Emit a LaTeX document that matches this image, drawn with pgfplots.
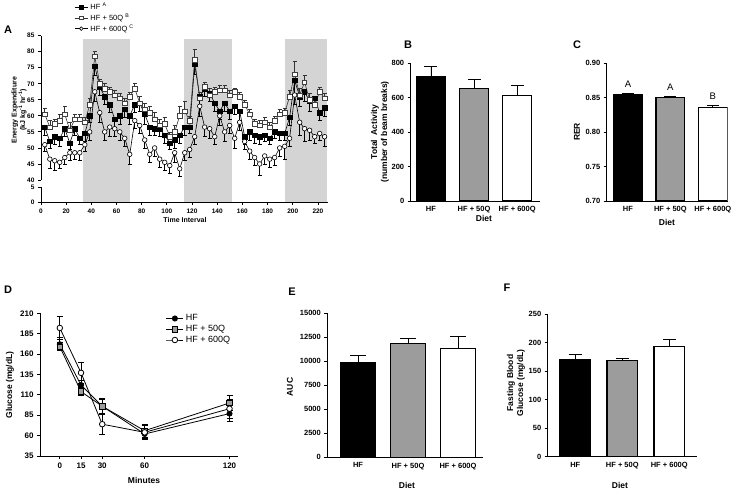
\documentclass[border=0pt]{standalone}
\usepackage{fontspec}
\setmainfont{Liberation Sans}
\usepackage{pgfplots}
\usepackage{pgfplotstable}
\pgfplotsset{compat=1.18}

\definecolor{band}{HTML}{D4D4D4}
\definecolor{bargray}{HTML}{9C9C9C}

\newcommand\tk{\bfseries\fontsize{7.5}{8}\selectfont}
\newcommand\lb{\bfseries\fontsize{8.5}{10}\selectfont}
\newcommand\pl{\bfseries\fontsize{11}{12}\selectfont}

\pgfplotstableread{
x hf hfe qa qae qb qbe
3.0 56.5 2.5 60.5 2.0 51.0 2.0
7.0 52.0 2.0 56.5 2.0 46.5 3.0
10.9 53.5 2.5 57.5 1.5 46.0 3.0
14.9 53.0 2.5 58.5 2.0 45.5 2.0
18.9 56.0 2.5 60.5 2.5 47.0 2.0
22.9 51.5 2.0 55.5 2.5 48.5 2.5
26.8 56.0 2.0 59.0 1.5 48.5 2.0
30.8 53.0 2.0 59.0 1.5 48.5 2.5
34.8 54.5 2.5 58.0 1.5 51.0 2.0
38.7 60.0 2.0 63.5 2.0 55.0 2.5
42.7 75.5 3.0 78.5 1.5 67.5 3.0
46.7 69.0 2.5 70.0 1.5 61.0 3.0
50.6 66.0 2.5 68.5 1.5 55.0 2.5
54.6 63.5 2.5 67.5 1.5 56.5 3.0
58.6 59.0 2.5 66.5 1.5 56.0 2.5
62.6 60.0 2.5 65.5 1.5 55.0 2.5
66.5 62.0 2.5 64.0 1.5 53.0 2.5
70.5 60.0 2.5 66.0 1.5 48.0 3.0
74.5 63.5 2.5 68.5 1.5 58.5 2.5
78.4 64.0 2.5 64.0 2.0 57.0 2.5
82.4 60.5 3.0 62.0 2.0 52.5 2.5
86.4 56.5 2.5 61.0 2.0 48.0 2.5
90.3 56.0 2.0 59.0 2.0 50.0 2.5
94.3 56.0 2.5 57.0 2.0 46.5 2.5
98.3 54.0 2.5 57.5 2.0 45.5 2.5
102.3 51.5 2.0 53.5 1.5 44.5 2.5
106.2 52.5 2.5 55.0 2.0 48.5 3.0
110.2 54.0 2.5 60.0 3.0 43.5 2.5
114.2 56.5 2.5 61.5 3.0 48.5 2.5
118.1 56.5 2.0 58.5 1.5 49.5 2.5
122.1 76.0 3.0 77.5 3.3 53.5 2.5
126.1 66.0 2.5 65.5 2.0 63.0 3.0
130.0 68.5 2.5 69.0 1.5 56.5 3.0
134.0 67.0 2.5 66.5 2.0 56.0 3.0
138.0 64.0 2.5 67.5 1.5 53.5 2.5
142.0 61.5 2.5 68.0 1.5 60.0 3.0
145.9 64.0 2.5 68.0 1.5 55.0 3.0
149.9 61.5 2.5 66.5 1.5 57.0 2.5
153.9 63.0 2.5 67.5 1.0 53.0 3.0
157.8 61.5 3.0 66.0 1.5 58.0 2.5
161.8 53.5 2.5 63.5 1.5 52.0 2.5
165.8 55.0 2.5 60.5 1.5 49.0 2.5
169.7 54.0 2.5 57.5 1.5 47.0 2.5
173.7 53.5 2.5 57.0 1.5 45.0 3.5
177.7 54.0 2.0 58.0 1.5 47.5 2.5
181.7 53.0 2.0 56.5 1.5 46.5 2.5
185.6 55.0 2.0 58.5 1.5 47.0 2.5
189.6 54.5 2.0 60.5 1.5 50.0 2.5
193.6 54.5 2.0 61.0 1.5 50.5 4.0
197.5 59.5 2.5 66.0 2.0 53.0 2.5
201.5 71.0 4.0 73.0 4.0 66.5 3.0
205.5 66.0 3.0 66.5 2.0 58.0 4.0
209.4 67.5 3.0 70.5 2.0 56.0 4.0
213.4 64.5 3.0 65.0 2.0 55.5 3.0
217.4 65.5 2.5 63.5 2.0 53.5 2.0
221.4 61.0 2.5 67.5 1.5 54.5 2.0
225.3 62.5 2.5 65.5 1.5 53.5 3.0
}\eetable

\pgfplotsset{
  gp/.style={scale only axis, axis lines=left, axis line style={-, line width=0.9pt},
    tick align=outside, major tick length=3pt, tick style={black, line width=0.8pt},
    tick label style={font=\tk}, /pgf/number format/assume math mode=true,
    /pgf/number format/1000 sep={}, scaled ticks=false, clip=true},
  barax/.style={gp, xtick={0,1,2}, xticklabels={HF,HF + 50Q,HF + 600Q},
    xtick style={draw=none}, xticklabel style={yshift=1pt}, axis on top},
  bars/.style={ybar, bar shift=0pt, bar width=#1, draw=black, line width=1.1pt},
  ebp/.style={error bars/.cd, y dir=plus, y explicit,
    error bar style={line width=0.9pt, black},
    error mark options={line width=0.9pt, black, mark size=#1, rotate=90}},
}

\begin{document}
\begin{tikzpicture}[x=1pt,y=1pt]
\path[use as bounding box] (0pt,0pt) rectangle (739pt,494pt);

% ---------------- Panel A ----------------
\begin{axis}[gp, at={(41pt,292pt)}, anchor=south west, width=287pt, height=15pt,
  xmin=0, xmax=228, ymin=0, ymax=5, ytick={0,5}, xtick={0,20,...,220},
  clip=false, axis on top, tick label style={font=\bfseries\fontsize{6.5}{7}\selectfont}]
\addplot[fill=band, draw=none] coordinates {(33.6,0) (33.6,7.5) (70.7,7.5) (70.7,0)} -- cycle;
\addplot[fill=band, draw=none] coordinates {(113.8,0) (113.8,7.5) (151.4,7.5) (151.4,0)} -- cycle;
\addplot[fill=band, draw=none] coordinates {(193.8,0) (193.8,7.5) (227.4,7.5) (227.4,0)} -- cycle;
\end{axis}

\begin{axis}[gp, at={(41pt,314pt)}, anchor=south west, width=287pt, height=144.3pt,
  xmin=0, xmax=228, ymin=40, ymax=85, ytick={40,45,...,85},
  axis x line=none, axis y line*=left, axis on top,
  tick label style={font=\bfseries\fontsize{6.5}{7}\selectfont},
  legend style={at={(0.115,1.24)}, anchor=north west, draw=none, fill=none,
    font=\fontsize{7.5}{8}\selectfont, row sep=-1.5pt, inner sep=0pt},
  legend image post style={scale=0.8},
  legend cell align=left]
\addplot[fill=band, draw=none, forget plot] coordinates {(33.6,40) (33.6,84) (70.7,84) (70.7,40)} -- cycle;
\addplot[fill=band, draw=none, forget plot] coordinates {(113.8,40) (113.8,84) (151.4,84) (151.4,40)} -- cycle;
\addplot[fill=band, draw=none, forget plot] coordinates {(193.8,40) (193.8,84) (227.4,84) (227.4,40)} -- cycle;
\addplot[black, line width=0.6pt, mark=square*, mark size=2.2pt, mark options={fill=black},
  error bars/.cd, y dir=minus, y explicit, error bar style={line width=0.6pt},
  error mark options={line width=0.6pt, mark size=2pt, rotate=90}]
  table[x=x, y=hf, y error=hfe] \eetable;
\addlegendentry{HF $^{\mathrm{A}}$}
\addplot[black!80, line width=0.6pt, mark=square*, mark size=2.2pt, mark options={fill=white, draw=black!75},
  error bars/.cd, y dir=plus, y explicit, error bar style={line width=0.6pt},
  error mark options={line width=0.6pt, mark size=2pt, rotate=90}]
  table[x=x, y=qa, y error=qae] \eetable;
\addlegendentry{HF + 50Q $^{\mathrm{B}}$}
\addplot[black, line width=0.6pt, mark=*, mark size=2.3pt, mark options={fill=white},
  error bars/.cd, y dir=minus, y explicit, error bar style={line width=0.6pt},
  error mark options={line width=0.6pt, mark size=2pt, rotate=90}]
  table[x=x, y=qb, y error=qbe] \eetable;
\addlegendentry{HF + 600Q $^{\mathrm{C}}$}
\end{axis}
\node[font=\pl] at (8pt,464pt) {A};
\node[rotate=90, align=center, font=\bfseries\fontsize{7}{8.5}\selectfont] at (19pt,384pt)
  {Energy Expenditure\\(kJ kg\textsuperscript{-1} hr\textsuperscript{-1})};
\node[font=\bfseries\fontsize{7}{8}\selectfont] at (185pt,274pt) {Time Interval};

% ---------------- Panel B ----------------
\begin{axis}[barax, at={(410.7pt,293pt)}, anchor=south west, width=129.3pt, height=138pt,
  xmin=-0.47, xmax=2.53, ymin=0, ymax=800, ytick={0,200,...,800}]
\addplot[bars=0.674, fill=black, ebp=6.5pt] coordinates {(0,720) +- (0,62)};
\addplot[bars=0.674, fill=bargray, ebp=6.5pt] coordinates {(1,650) +- (0,57)};
\addplot[bars=0.674, fill=white, ebp=6.5pt] coordinates {(2,612) +- (0,57)};
\end{axis}
\node[font=\pl] at (408pt,449pt) {B};
\node[rotate=90, align=center, font=\lb] at (380pt,362pt) {Total\ \ Activity\\(number of beam breaks)};
\node[font=\lb] at (484pt,276pt) {Diet};

% ---------------- Panel C ----------------
\begin{axis}[barax, at={(606.7pt,293pt)}, anchor=south west, width=121pt, height=138pt,
  xmin=-0.5, xmax=2.35, ymin=0.70, ymax=0.90, ytick={0.70,0.75,...,0.90},
  yticklabel style={/pgf/number format/.cd, fixed, fixed zerofill, precision=2}]
\addplot[bars=0.68, fill=black, ebp=6pt] coordinates {(0,0.854) +- (0,0.0015)};
\addplot[bars=0.68, fill=bargray, ebp=6pt] coordinates {(1,0.850) +- (0,0.0015)};
\addplot[bars=0.68, fill=white, ebp=6pt] coordinates {(2,0.836) +- (0,0.002)};
\node[font=\fontsize{9.5}{10}\selectfont] at (axis cs:0,0.869) {A};
\node[font=\fontsize{9.5}{10}\selectfont] at (axis cs:1,0.865) {A};
\node[font=\fontsize{9.5}{10}\selectfont] at (axis cs:2,0.852) {B};
\end{axis}
\node[font=\pl] at (577pt,449pt) {C};
\node[rotate=90, font=\lb] at (577pt,362pt) {RER};
\node[font=\lb] at (667pt,272pt) {Diet};

% ---------------- Panel D ----------------
\begin{axis}[gp, at={(40pt,38pt)}, anchor=south west, width=198pt, height=142.7pt,
  xmin=-14, xmax=126, ymin=35, ymax=210, ytick={35,60,...,210}, xtick={0,15,30,60,120},
  tick label style={font=\bfseries\fontsize{8}{9}\selectfont}, clip=false,
  legend style={at={(0.62,1.02)}, anchor=north west, draw=none, fill=none,
    font=\fontsize{9}{10}\selectfont, row sep=-1pt},
  legend cell align=left]
\addplot[black, line width=0.8pt, mark=*, mark size=2.6pt, mark options={fill=black},
  error bars/.cd, y dir=both, y explicit, error bar style={line width=0.8pt},
  error mark options={line width=0.8pt, mark size=3pt, rotate=90}]
  coordinates {(0,172) +- (0,8) (15,122) +- (0,6) (30,96) +- (0,10) (60,62) +- (0,6) (120,87) +- (0,10)};
\addlegendentry{HF}
\addplot[black, line width=0.8pt, mark=square*, mark size=2.8pt, mark options={fill=bargray},
  error bars/.cd, y dir=both, y explicit, error bar style={line width=0.8pt},
  error mark options={line width=0.8pt, mark size=3pt, rotate=90}]
  coordinates {(0,169) +- (0,5) (15,114) +- (0,5) (30,96) +- (0,9) (60,66) +- (0,8) (120,100) +- (0,9)};
\addlegendentry{HF + 50Q}
\addplot[black, line width=0.8pt, mark=*, mark size=2.8pt, mark options={fill=white},
  error bars/.cd, y dir=both, y explicit, error bar style={line width=0.8pt},
  error mark options={line width=0.8pt, mark size=3pt, rotate=90}]
  coordinates {(0,192) +- (0,14) (15,137) +- (0,13) (30,74) +- (0,12) (60,64) +- (0,9) (120,93) +- (0,12)};
\addlegendentry{HF + 600Q}
\end{axis}
\node[font=\pl] at (8pt,204pt) {D};
\node[rotate=90, font=\lb] at (10pt,109pt) {Glucose (mg/dL)};
\node[font=\lb] at (144pt,14pt) {Minutes};

% ---------------- Panel E ----------------
\begin{axis}[barax, at={(327.3pt,36.7pt)}, anchor=south west, width=155.7pt, height=144pt,
  xmin=-0.614, xmax=2.5, ymin=0, ymax=15000, ytick={0,2500,...,15000}]
\addplot[bars=0.7, fill=black, ebp=8pt] coordinates {(0,9860) +- (0,730)};
\addplot[bars=0.7, fill=bargray, ebp=8pt] coordinates {(1,11810) +- (0,520)};
\addplot[bars=0.7, fill=white, ebp=8pt] coordinates {(2,11320) +- (0,1290)};
\end{axis}
\node[font=\pl] at (292pt,202pt) {E};
\node[rotate=90, font=\lb] at (290pt,107pt) {AUC};
\node[font=\lb] at (407pt,9pt) {Diet};

% ---------------- Panel F ----------------
\begin{axis}[barax, at={(547.7pt,37.3pt)}, anchor=south west, width=149.3pt, height=142.7pt,
  xmin=-0.587, xmax=2.59, ymin=0, ymax=250, ytick={0,50,...,250}]
\addplot[bars=0.65, fill=black, ebp=6.5pt] coordinates {(0,170.5) +- (0,8.8)};
\addplot[bars=0.65, fill=bargray, ebp=6.5pt] coordinates {(1,168) +- (0,4.8)};
\addplot[bars=0.65, fill=white, ebp=6.5pt] coordinates {(2,192.8) +- (0,12.8)};
\end{axis}
\node[font=\pl] at (507pt,206pt) {F};
\node[rotate=90, align=center, font=\lb] at (516pt,111pt) {Fasting Blood\\Glucose (mg/dL)};
\node[font=\lb] at (620pt,9pt) {Diet};
\end{tikzpicture}
\end{document}
